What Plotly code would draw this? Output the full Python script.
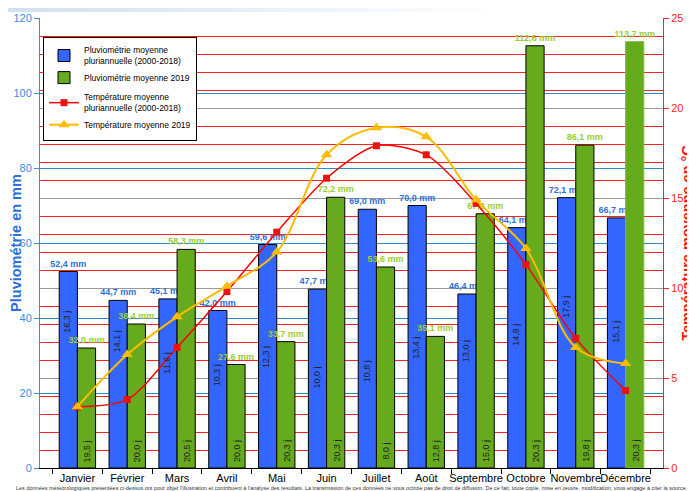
import plotly.graph_objects as go

months = ["Janvier", "Février", "Mars", "Avril", "Mai", "Juin", "Juillet",
          "Août", "Septembre", "Octobre", "Novembre", "Décembre"]
rain_avg = [52.4, 44.7, 45.1, 42.0, 59.6, 47.7, 69.0, 70.0, 46.4, 64.1, 72.1, 66.7]
rain_2019 = [32.0, 38.4, 58.3, 27.6, 33.7, 72.2, 53.6, 35.1, 67.8, 112.6, 86.1, 113.7]
days_avg = [16.3, 14.1, 11.6, 10.3, 12.3, 10.0, 10.8, 13.4, 13.0, 14.8, 17.9, 15.1]
days_2019 = [19.5, 20.0, 20.5, 20.0, 20.3, 20.3, 8.0, 12.8, 15.0, 20.3, 19.8, 20.3]
temp_avg = [3.4, 3.8, 6.7, 9.8, 13.1, 16.1, 17.9, 17.4, 14.7, 11.3, 7.2, 4.3]
temp_2019 = [3.4, 6.3, 8.4, 10.1, 12.0, 17.4, 18.9, 18.4, 14.9, 12.2, 6.7, 5.8]

BLUE = "#3366FF"
GREEN = "#66AA1E"
BLUE_TXT = "#2E6FD8"
GREEN_TXT = "#9ACD32"
FONT = "Liberation Sans, Arial, sans-serif"

# page has an 8px body margin: figure is sized so that it fits the window
W, H = 687, 483
ML, MR, MT, MB = 32, 32, 10, 23
PW, PH = W - ML - MR, H - MT - MB

fig = go.Figure()
fig.add_trace(go.Bar(
    x=months, y=rain_avg, name="Pluviométrie moyenne<br>pluriannuelle (2000-2018)",
    marker=dict(color=BLUE, line=dict(color="black", width=1)),
    texttemplate="%{y:.1f} mm", textposition="outside", constraintext="none",
    textfont=dict(color=BLUE_TXT, size=9, family=FONT, weight="bold"),
    cliponaxis=False, legendgroup="a"))
fig.add_trace(go.Bar(
    x=months, y=rain_2019, name="Pluviométrie moyenne 2019",
    marker=dict(color=GREEN, line=dict(color=["black"] * 11 + ["#7BBF3A"], width=1)),
    texttemplate="%{y:.1f} mm", textposition="outside", constraintext="none",
    textfont=dict(color=GREEN_TXT, size=9, family=FONT, weight="bold"),
    cliponaxis=False, legendgroup="a"))
fig.add_trace(go.Scatter(
    x=months, y=temp_avg, yaxis="y2", mode="lines+markers",
    name="Température moyenne<br>pluriannuelle (2000-2018)",
    line=dict(color="#FF0000", width=1.5, shape="spline", smoothing=0.8),
    marker=dict(symbol="square", size=7, color="#EE1111"), legendgroup="b"))
fig.add_trace(go.Scatter(
    x=months, y=temp_2019, yaxis="y2", mode="lines+markers",
    name="Température moyenne 2019",
    line=dict(color="#FFBB00", width=2, shape="spline", smoothing=1.0),
    marker=dict(symbol="triangle-up", size=10, color="#FFBB00"), legendgroup="b"))

annotations = []
for m, d in zip(months, days_avg):
    annotations.append(dict(x=m, y=d * 2.4, xref="x", yref="y", xshift=-10,
                            text=f"{d:.1f} j".replace(".", ","), showarrow=False,
                            textangle=-90, font=dict(size=9, color="#222222", family=FONT)))
for m, d in zip(months, days_2019):
    annotations.append(dict(x=m, y=0, xref="x", yref="y", xshift=10, yshift=17,
                            text=f"{d:.1f} j".replace(".", ","), showarrow=False,
                            textangle=-90, font=dict(size=9, color="#222222", family=FONT)))
annotations.append(dict(
    x=0.5, y=0, xref="paper", yref="paper", yanchor="top", yshift=-15,
    text="Les données météorologiques présentées ci-dessus ont pour objet l'illustration et contribuent à l'analyse des résultats. "
         "La transmission de ces données ne vous octroie pas de droit de diffusion. De ce fait, toute copie, mise en œuvre, "
         "modification, vous engage à citer la source.",
    showarrow=False, font=dict(size=5.5, color="#333333", family=FONT)))

# top gradient banner
shapes = []
n = 30
for i in range(n):
    px0 = i * 500 / n - 8
    px1 = (i + 1) * 500 / n + 1 - 8
    t = i / (n - 1)
    r = int(0xD2 + (255 - 0xD2) * t)
    g = int(0xE0 + (255 - 0xE0) * t)
    b = int(0xF3 + (255 - 0xF3) * t)
    shapes.append(dict(type="rect", xref="paper", yref="paper",
                       x0=(px0 - ML) / PW, x1=(px1 - ML) / PW,
                       y0=(MT + PH - 4) / PH, y1=(MT + PH + 2) / PH,
                       fillcolor=f"rgb({r},{g},{b})", line=dict(width=0), layer="below"))

fig.update_layout(
    width=W, height=H,
    margin=dict(l=ML, r=MR, t=MT, b=MB),
    paper_bgcolor="white", plot_bgcolor="white",
    separators=", ",
    barmode="group", bargap=0.27, bargroupgap=0,
    font=dict(family=FONT),
    showlegend=True,
    legend=dict(x=3 / PW, y=(PH - 19) / PH, xanchor="left", yanchor="top",
                bgcolor="white", bordercolor="black", borderwidth=1,
                font=dict(size=8.5, color="black", family=FONT),
                tracegroupgap=3, traceorder="grouped", itemwidth=30),
    xaxis=dict(showline=True, linecolor="black", linewidth=1, ticks="outside",
               tickson="boundaries", ticklen=5, tickcolor="black", tickangle=0,
               tickfont=dict(size=11, color="black"), showgrid=False, automargin=False),
    yaxis=dict(range=[0, 120], dtick=20, showline=True, linecolor="#3A8FDB", linewidth=1,
               ticks="outside", ticklen=5, tickcolor="#3A8FDB",
               tickfont=dict(size=11, color="#3A8FDB"),
               showgrid=True, gridcolor="#2A8AD0", gridwidth=1, zeroline=False,
               title=dict(text="<b>Pluviométrie en mm</b>", font=dict(size=14.5, color="#2C6FD6"),
                          standoff=3),
               automargin=False),
    yaxis2=dict(range=[0, 25], dtick=5, overlaying="y", side="right", showline=True,
                linecolor="#FF2222", linewidth=1, ticks="outside", ticklen=5,
                tickcolor="#FF2222", tickfont=dict(size=11, color="#FF2222"),
                showgrid=True, gridcolor="#999999", gridwidth=1, zeroline=False,
                minor=dict(dtick=1, showgrid=True, gridcolor="#FF2020", gridwidth=1),
                title=dict(text="<b>Température moyenne en °C</b>", font=dict(size=14.5, color="#FF1111"),
                           standoff=8),
                automargin=False),
    annotations=annotations,
    shapes=shapes,
)

fig.write_html("out.html")
